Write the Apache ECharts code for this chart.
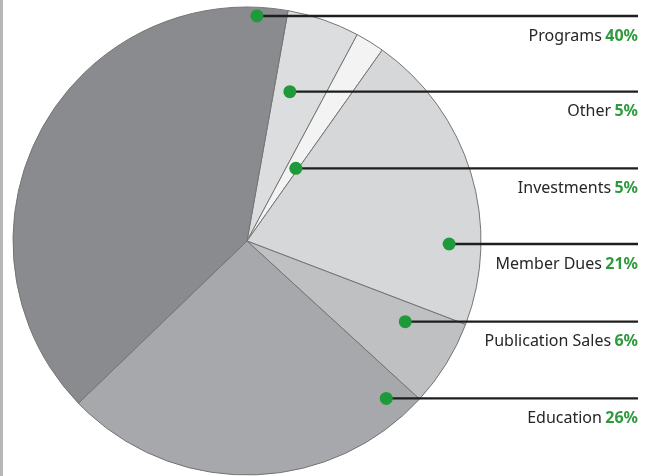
<!DOCTYPE html>
<html>
<head>
<meta charset="utf-8">
<script src="https://cdn.jsdelivr.net/npm/echarts@6/dist/echarts.min.js"></script>
<style>
html,body{margin:0;padding:0;background:#fff;}
#c{width:655px;height:476px;border-left:3px solid #b8b8b8;box-sizing:border-box;}
</style>
</head>
<body>
<div id="c"></div>
<script>
// Data (pie order clockwise, starting just right of 12 o'clock)
const categories = ['Other', 'Investments', 'Member Dues', 'Publication Sales', 'Education', 'Programs'];
const sliceValues = [5, 2, 21, 6, 26, 40];          // slice sizes as drawn
const labelPercents = ['5%', '5%', '21%', '6%', '26%', '40%']; // percentages printed in labels

// Styling / layout
const sliceColors = ['#dcdddf', '#f3f3f3', '#d6d7d9', '#bfc0c2', '#a7a8ab', '#8a8b8e'];
// dot anchors: [radius fraction, angle in degrees clockwise from 12 o'clock]
const dotAnchors = [[0.664, 16.0], [0.374, 33.9], [0.864, 90.85], [0.759, 117.0], [0.898, 138.5], [0.9626, 2.53]];
const CX = 244, CY = 241, R = 234, LINE_END = 635, START = 90 - 10.1;

function dotPixel(i) {
  const r = dotAnchors[i][0] * R, a = dotAnchors[i][1] * Math.PI / 180;
  return [CX + r * Math.sin(a), CY - r * Math.cos(a)];
}

const pieData = categories.map((c, i) => ({ name: c, value: sliceValues[i], itemStyle: { color: sliceColors[i] } }));

const chart = echarts.init(document.getElementById('c'));
chart.setOption({
  animation: false,
  polar: { center: [CX, CY], radius: R },
  angleAxis: { type: 'value', min: 0, max: 360, startAngle: 90, clockwise: true, show: false },
  radiusAxis: { type: 'value', min: 0, max: 1, show: false },
  series: [
    {
      type: 'pie',
      center: [CX, CY],
      radius: R,
      startAngle: START,
      clockwise: true,
      silent: true,
      z: 2,
      itemStyle: { borderColor: '#747474', borderWidth: 1 },
      data: pieData,
      label: { show: false },
      labelLine: { show: false }
    },
    {
      // same geometry, transparent: carries labels and leader lines above the slices
      type: 'pie',
      center: [CX, CY],
      radius: R,
      startAngle: START,
      clockwise: true,
      avoidLabelOverlap: false,
      silent: true,
      z: 5,
      itemStyle: { color: 'rgba(0,0,0,0)', borderWidth: 0 },
      data: categories.map((c, i) => ({ name: c, value: sliceValues[i] })),
      label: {
        show: true,
        position: 'outside',
        formatter: p => '{n|' + p.name + '} {p|' + labelPercents[p.dataIndex] + '}',
        rich: {
          n: { fontFamily: 'Noto Sans', fontSize: 16, color: '#262626' },
          p: { fontFamily: 'Noto Sans', fontSize: 16, fontWeight: 'bold', color: '#2e9a3e' }
        }
      },
      labelLine: { show: true, lineStyle: { color: '#1e1e1e', width: 2.4 } },
      labelLayout: function (params) {
        const d = dotPixel(params.dataIndex);
        return {
          x: LINE_END, y: d[1] + 20, align: 'right', verticalAlign: 'middle',
          labelLinePoints: [[d[0], d[1]], [LINE_END, d[1]], [LINE_END, d[1]]]
        };
      }
    },
    {
      type: 'scatter',
      coordinateSystem: 'polar',
      symbol: 'circle',
      symbolSize: 13,
      z: 10,
      silent: true,
      itemStyle: { color: '#1f9a3a', opacity: 1 },
      data: dotAnchors.map(a => [a[0], a[1]])
    }
  ]
});
</script>
</body>
</html>
